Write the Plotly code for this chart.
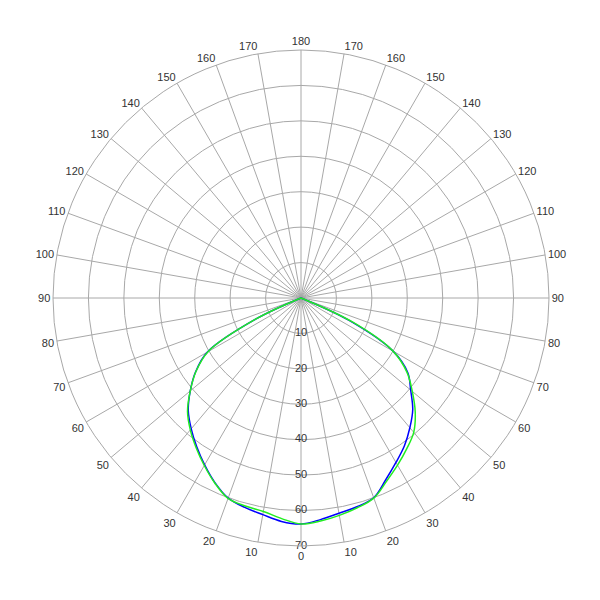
import plotly.graph_objects as go

# angle from nadir (degrees)
gamma = [0, 5, 10, 15, 20, 25, 30, 35, 40, 45, 50, 55, 60, 65, 70, 75, 80, 85, 90]

# blue curve
blue_left = [63.8, 63.3, 62.1, 61.2, 60.1, 57.5, 54.4, 51.3, 48.2, 45.0, 40.8, 36.3, 30.5, 14.0, 0, 0, 0, 0, 0]
blue_right = [63.8, 62.8, 61.7, 61.0, 60.0, 56.6, 53.6, 50.9, 47.8, 44.6, 40.4, 36.8, 30.0, 15.0, 0, 0, 0, 0, 0]
# green curve
green_left = [63.8, 62.5, 61.2, 60.8, 60.2, 57.6, 54.6, 51.6, 48.6, 45.3, 40.8, 36.2, 30.3, 14.0, 0, 0, 0, 0, 0]
green_right = [63.8, 63.2, 62.3, 61.3, 60.1, 57.1, 54.5, 52.0, 49.5, 45.6, 41.0, 36.5, 30.0, 16.0, 0, 0, 0, 0, 0]

radial_ticks = [10, 20, 30, 40, 50, 60, 70]
angle_ticks = list(range(0, 360, 10))
angle_labels = [str(min(a, 360 - a)) for a in angle_ticks]


def closed(left, right):
    th = [360 - g for g in gamma[::-1]] + gamma[1:]
    rr = left[::-1] + right[1:]
    return th, rr


fig = go.Figure()
tb, rb = closed(blue_left, blue_right)
tg, rg = closed(green_left, green_right)
fig.add_trace(go.Scatterpolar(theta=tb, r=rb, mode="lines",
                              line=dict(color="#0000ff", width=1.5, shape="spline"),
                              hoverinfo="skip"))
fig.add_trace(go.Scatterpolar(theta=tg, r=rg, mode="lines",
                              line=dict(color="#22ee22", width=1.5, shape="spline"),
                              hoverinfo="skip"))
fig.add_trace(go.Scatterpolar(theta=[0] * len(radial_ticks), r=radial_ticks, mode="text",
                              text=[str(v) for v in radial_ticks],
                              textfont=dict(family="Liberation Sans", size=11, color="#333333"),
                              textposition="middle center", hoverinfo="skip"))

fig.update_layout(
    width=600, height=600,
    margin=dict(l=45, r=59, t=42, b=62),
    paper_bgcolor="white",
    showlegend=False,
    polar=dict(
        bgcolor="white",
        radialaxis=dict(range=[0, 70], tickvals=radial_ticks, showticklabels=False,
                        ticks="", showline=False, gridcolor="#a8a8a8", gridwidth=1),
        angularaxis=dict(rotation=-90, direction="counterclockwise",
                         tickvals=angle_ticks, ticktext=angle_labels, ticks="",
                         gridcolor="#a8a8a8", gridwidth=1,
                         linecolor="#a8a8a8", linewidth=1, showline=True,
                         tickfont=dict(family="Liberation Sans", size=11, color="#333333")),
    ),
)
fig.write_html("out.html")
